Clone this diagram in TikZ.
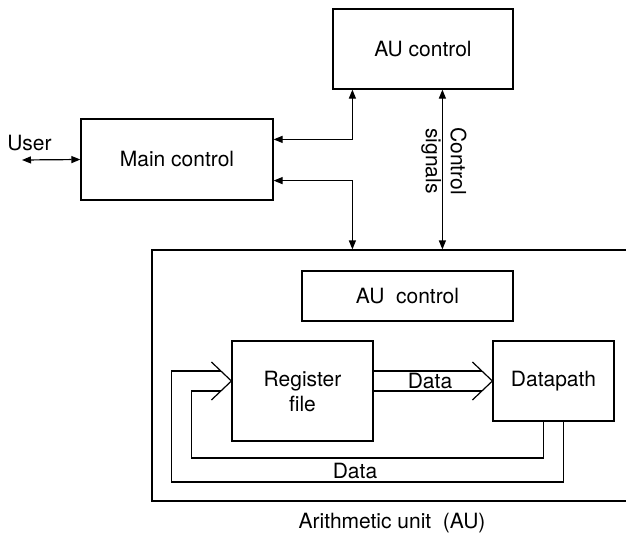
\documentclass[tikz,border=0pt]{standalone}
\usepackage{fontspec}
\setmainfont{TeX Gyre Heros}
\usetikzlibrary{arrows.meta,calc}
\begin{document}
\begin{tikzpicture}[x=1pt,y=-1pt,
  every node/.style={font=\fontsize{21}{25}\selectfont},
  blk/.style={draw, line width=1.2pt, inner sep=0pt, align=center},
  wire/.style={line width=1.2pt},
  biarrow/.style={wire, {Triangle[length=9pt,width=7pt]}-{Triangle[length=9pt,width=7pt]}},
  lbl/.style={inner sep=0pt, align=center}]
\useasboundingbox (0,0) rectangle (626,535);

% blocks
\node[blk, minimum width=192pt, minimum height=81pt] (main) at (177,159.5) {Main control};
\node[blk, minimum width=180pt, minimum height=80pt] (auc) at (423,49) {AU control};
\node[blk, minimum width=508pt, minimum height=251pt] (au) at (406,375.5) {};
\node[blk, minimum width=211pt, minimum height=50pt] (aui) at (407.5,296) {AU\ \ control};
\node[blk, minimum width=141pt, minimum height=100pt] (rf) at (302.5,391) {Register\\file};
\node[blk, minimum width=121pt, minimum height=80pt] (dp) at (553.5,381) {Datapath};

% labels
\node[lbl] (user) at (29.5,143) {User};
\node[lbl, rotate=-90] (cs) at (444,161) {Control\\signals};
\node[lbl] (d1) at (430,381) {Data};
\node[lbl] (d2) at (355,471) {Data};
\node[lbl] (cap) at (392,523) {Arithmetic unit\ \ (AU)};

% control arrows
\coordinate (uend) at (22,160);
\draw[biarrow] (uend) -- (main.west);
\draw[biarrow] ($(auc.south west)+(20,0)$) |- ($(main.north east)+(0,21)$);
\draw[biarrow] ($(main.south east)+(0,-20)$) -| ($(au.north west)+(201,0)$);
\draw[biarrow] ($(auc.south west)+(110,0)$) -- ($(au.north west)+(291,0)$);

% data bus register file -> datapath
\coordinate (tipR) at (dp.west);
\draw[wire] ($(rf.east)+(0,-20)$) -- ($(tipR)+(-10,-10)$);
\draw[wire] (rf.east) -- ($(tipR)+(-10,10)$);
\draw[wire] ($(tipR)+(-20,-19)$) -- (tipR) -- ($(tipR)+(-20,19)$);

% data bus datapath -> register file
\coordinate (tipL) at (rf.west |- dp.west);
\draw[wire] ($(dp.south west)+(71,0)$) |- ($(tipL)+(-60,101)$) |- ($(tipL)+(-10,-10)$);
\draw[wire] ($(dp.south west)+(51,0)$) |- ($(tipL)+(-40,77)$) |- ($(tipL)+(-10,10)$);
\draw[wire] ($(tipL)+(-20,-19)$) -- (tipL) -- ($(tipL)+(-20,19)$);
\end{tikzpicture}
\end{document}
